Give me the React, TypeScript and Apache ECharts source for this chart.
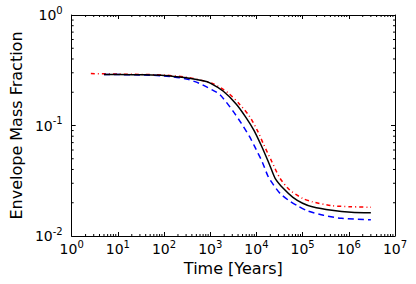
import React, { useEffect, useRef } from "react";
import * as echarts from "echarts";

// Data (time in years, envelope mass fraction)
const blackTime = [5, 10, 30, 100, 300, 700, 1000, 1920, 3670, 5960, 8900, 12300, 16000, 20000, 25400, 38000, 61600, 100000, 162000, 430000, 1130000, 3000000];
const blackFrac = [0.29, 0.29, 0.288, 0.284, 0.27, 0.254, 0.242, 0.204, 0.156, 0.118, 0.09, 0.068, 0.053, 0.0424, 0.0333, 0.027, 0.0224, 0.0198, 0.0184, 0.0171, 0.0164, 0.0162];

const redTime = [2.6, 10, 30, 100, 300, 575, 1180, 2440, 4300, 7000, 10500, 14400, 21600, 32400, 52500, 100000, 162000, 426000, 1130000, 3000000];
const redFrac = [0.295, 0.292, 0.29, 0.286, 0.274, 0.259, 0.238, 0.197, 0.156, 0.122, 0.09, 0.067, 0.047, 0.0333, 0.0261, 0.0219, 0.0204, 0.0188, 0.0184, 0.0182];

const blueTime = [5, 10, 30, 100, 302, 575, 1100, 1630, 3110, 4680, 7000, 8900, 13300, 18000, 23400, 32400, 48400, 78500, 127000, 285000, 692000, 3000000];
const blueFrac = [0.29, 0.289, 0.287, 0.281, 0.264, 0.241, 0.21, 0.19, 0.135, 0.105, 0.08, 0.066, 0.047, 0.0344, 0.029, 0.0243, 0.0212, 0.0187, 0.0169, 0.0154, 0.01445, 0.014];

const xMin = 1;
const xMax = 1e7;
const yMin = 0.01;
const yMax = 1;
const xTitle = "Time [Years]";
const yTitle = "Envelope Mass Fraction";

const FONT = "DejaVu Sans";

function minorValues(lo: number, hi: number): number[] {
  const out: number[] = [];
  for (let d = Math.round(Math.log10(lo)); d < Math.round(Math.log10(hi)); d++) {
    for (let k = 2; k <= 9; k++) out.push(k * Math.pow(10, d));
  }
  return out;
}

const zip = (a: number[], b: number[]) => a.map((v, i) => [v, b[i]]);

const supLabel = (v: number) => `{b|10}{s|${Math.round(Math.log10(v))}}`;

const rich = {
  b: { fontSize: 14, fontFamily: FONT, color: "#000", lineHeight: 20 },
  s: { fontSize: 10, fontFamily: FONT, color: "#000", lineHeight: 10, verticalAlign: "top" as const },
};

export default function App() {
  const ref = useRef<HTMLDivElement>(null);
  useEffect(() => {
    if (!ref.current) return;
    const chart = echarts.init(ref.current, undefined, { renderer: "svg" });
    const axisLine = { show: true, onZero: false, lineStyle: { color: "#000", width: 1 } };
    const tick = { show: true, inside: true, length: 4, lineStyle: { color: "#000", width: 1 } };
    const xMinor = minorValues(xMin, xMax).map((v) => [v, yMin]);
    const yMinor = minorValues(yMin, yMax).map((v) => [xMin, v]);
    chart.setOption({
      animation: false,
      grid: { left: 62, right: 21, top: 15, bottom: 48 },
      xAxis: [
        {
          type: "log",
          logBase: 10,
          min: xMin,
          max: xMax,
          splitNumber: 7,
          position: "bottom",
          axisLine,
          axisTick: tick,
          splitLine: { show: false },
          axisLabel: { formatter: supLabel, rich, margin: 3, showMinLabel: true, showMaxLabel: true },
          name: xTitle,
          nameLocation: "middle",
          nameGap: 24,
          nameTextStyle: { fontFamily: FONT, fontSize: 16, color: "#000" },
        },
        {
          type: "log",
          logBase: 10,
          min: xMin,
          max: xMax,
          splitNumber: 7,
          position: "top",
          axisLine,
          axisTick: tick,
          splitLine: { show: false },
          axisLabel: { show: false },
        },
      ],
      yAxis: [
        {
          type: "log",
          logBase: 10,
          min: yMin,
          max: yMax,
          position: "left",
          axisLine,
          axisTick: tick,
          splitLine: { show: false },
          axisLabel: { formatter: supLabel, rich, margin: 9, showMinLabel: true, showMaxLabel: true },
          name: yTitle,
          nameLocation: "middle",
          nameGap: 36,
          nameTextStyle: { fontFamily: FONT, fontSize: 16, color: "#000" },
        },
        {
          type: "log",
          logBase: 10,
          min: yMin,
          max: yMax,
          position: "right",
          axisLine,
          axisTick: tick,
          splitLine: { show: false },
          axisLabel: { show: false },
        },
      ],
      series: [
        {
          type: "custom",
          xAxisIndex: 0,
          yAxisIndex: 0,
          silent: true,
          data: xMinor,
          renderItem: (_p: any, api: any) => {
            const v = api.value(0);
            const pb = api.coord([v, yMin]);
            const pt = api.coord([v, yMax]);
            return {
              type: "group",
              children: [
                { type: "line", shape: { x1: pb[0], y1: pb[1], x2: pb[0], y2: pb[1] - 2 }, style: { stroke: "#000", lineWidth: 1 } },
                { type: "line", shape: { x1: pt[0], y1: pt[1], x2: pt[0], y2: pt[1] + 2 }, style: { stroke: "#000", lineWidth: 1 } },
              ],
            };
          },
        },
        {
          type: "custom",
          xAxisIndex: 0,
          yAxisIndex: 0,
          silent: true,
          data: yMinor,
          renderItem: (_p: any, api: any) => {
            const v = api.value(1);
            const pl = api.coord([xMin, v]);
            const pr = api.coord([xMax, v]);
            return {
              type: "group",
              children: [
                { type: "line", shape: { x1: pl[0], y1: pl[1], x2: pl[0] + 2, y2: pl[1] }, style: { stroke: "#000", lineWidth: 1 } },
                { type: "line", shape: { x1: pr[0], y1: pr[1], x2: pr[0] - 2, y2: pr[1] }, style: { stroke: "#000", lineWidth: 1 } },
              ],
            };
          },
        },
        {
          type: "line",
          data: zip(redTime, redFrac),
          showSymbol: false,
          smooth: 0.25,
          lineStyle: { color: "#ff0000", width: 1.5, type: [4, 3, 1, 3] },
          z: 3,
        },
        {
          type: "line",
          data: zip(blueTime, blueFrac),
          showSymbol: false,
          smooth: 0.25,
          lineStyle: { color: "#0000ff", width: 1.5, type: [6, 4] },
          z: 3,
        },
        {
          type: "line",
          data: zip(blackTime, blackFrac),
          showSymbol: false,
          smooth: 0.25,
          lineStyle: { color: "#000000", width: 1.5, type: "solid" },
          z: 4,
        },
      ],
    });
    return () => chart.dispose();
  }, []);
  return <div ref={ref} style={{ position: "fixed", left: 0, top: 0, width: 416, height: 284, background: "#fff" }} />;
}
